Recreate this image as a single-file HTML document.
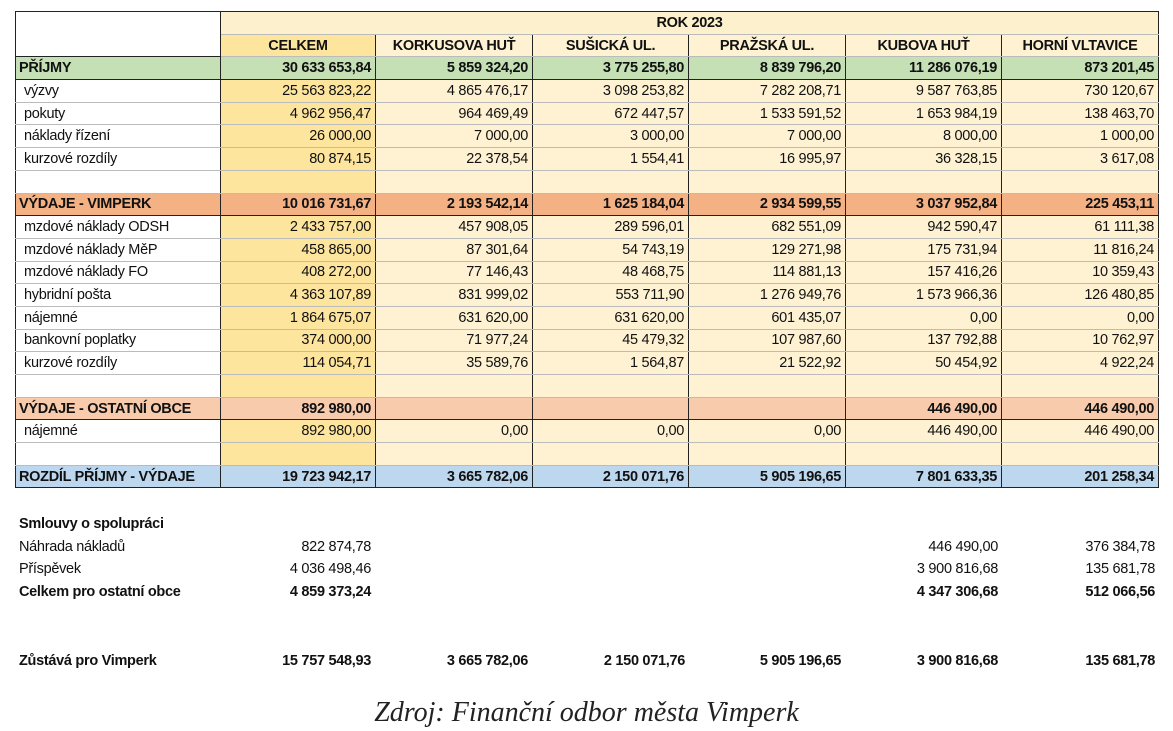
<!DOCTYPE html>
<html><head><meta charset="utf-8"><style>
body{margin:0;width:1173px;height:731px;background:#fff;overflow:hidden;position:relative;font-family:"Liberation Sans",sans-serif;}
table{position:absolute;left:15px;top:11px;border-collapse:collapse;table-layout:fixed;font-size:14.5px;color:#111;letter-spacing:-0.3px}
td{height:21.7px;padding:0 4px;border-left:1.5px solid #222;border-right:1.5px solid #222;border-top:1px solid #bbb;border-bottom:1px solid #bbb;text-align:right;white-space:nowrap;overflow:hidden;background:#fef2d2}
td.l{text-align:left;background:#fff;padding-left:8px}
td.c{background:#fde59e}
tr.s td{font-weight:bold;border-top:1.5px solid #222;border-bottom:1.5px solid #222}
tr.s td.l{padding-left:3px}
tr.g td{background:#c6e0b5}
tr.o td{background:#f4b184}
tr.p td{background:#f8cbad}
tr.b td{background:#bdd7ee}
tr.h td{font-weight:bold;text-align:center;border-top:1.5px solid #222}
.f{position:absolute;font-size:14.5px;color:#111;letter-spacing:-0.3px}
.r{text-align:right}
</style></head><body>
<table>
<colgroup><col style="width:205px"><col style="width:155px"><col style="width:157px"><col style="width:156px"><col style="width:157px"><col style="width:156px"><col style="width:157px"></colgroup>
<tr class="h"><td rowspan="2" style="background:#fff;border:1.5px solid #222"></td><td colspan="6" style="background:#fdf0cc;border-bottom:1px solid #bbb">ROK 2023</td></tr>
<tr class="h"><td class="c">CELKEM</td><td>KORKUSOVA HUŤ</td><td>SUŠICKÁ UL.</td><td>PRAŽSKÁ UL.</td><td>KUBOVA HUŤ</td><td>HORNÍ VLTAVICE</td></tr>
<tr class="s g"><td class="l">PŘÍJMY</td><td>30 633 653,84</td><td>5 859 324,20</td><td>3 775 255,80</td><td>8 839 796,20</td><td>11 286 076,19</td><td>873 201,45</td></tr>
<tr><td class="l">výzvy</td><td class="c">25 563 823,22</td><td>4 865 476,17</td><td>3 098 253,82</td><td>7 282 208,71</td><td>9 587 763,85</td><td>730 120,67</td></tr>
<tr><td class="l">pokuty</td><td class="c">4 962 956,47</td><td>964 469,49</td><td>672 447,57</td><td>1 533 591,52</td><td>1 653 984,19</td><td>138 463,70</td></tr>
<tr><td class="l">náklady řízení</td><td class="c">26 000,00</td><td>7 000,00</td><td>3 000,00</td><td>7 000,00</td><td>8 000,00</td><td>1 000,00</td></tr>
<tr><td class="l">kurzové rozdíly</td><td class="c">80 874,15</td><td>22 378,54</td><td>1 554,41</td><td>16 995,97</td><td>36 328,15</td><td>3 617,08</td></tr>
<tr><td class="l"></td><td class="c"></td><td></td><td></td><td></td><td></td><td></td></tr>
<tr class="s o"><td class="l">VÝDAJE - VIMPERK</td><td>10 016 731,67</td><td>2 193 542,14</td><td>1 625 184,04</td><td>2 934 599,55</td><td>3 037 952,84</td><td>225 453,11</td></tr>
<tr><td class="l">mzdové náklady ODSH</td><td class="c">2 433 757,00</td><td>457 908,05</td><td>289 596,01</td><td>682 551,09</td><td>942 590,47</td><td>61 111,38</td></tr>
<tr><td class="l">mzdové náklady MěP</td><td class="c">458 865,00</td><td>87 301,64</td><td>54 743,19</td><td>129 271,98</td><td>175 731,94</td><td>11 816,24</td></tr>
<tr><td class="l">mzdové náklady FO</td><td class="c">408 272,00</td><td>77 146,43</td><td>48 468,75</td><td>114 881,13</td><td>157 416,26</td><td>10 359,43</td></tr>
<tr><td class="l">hybridní pošta</td><td class="c">4 363 107,89</td><td>831 999,02</td><td>553 711,90</td><td>1 276 949,76</td><td>1 573 966,36</td><td>126 480,85</td></tr>
<tr><td class="l">nájemné</td><td class="c">1 864 675,07</td><td>631 620,00</td><td>631 620,00</td><td>601 435,07</td><td>0,00</td><td>0,00</td></tr>
<tr><td class="l">bankovní poplatky</td><td class="c">374 000,00</td><td>71 977,24</td><td>45 479,32</td><td>107 987,60</td><td>137 792,88</td><td>10 762,97</td></tr>
<tr><td class="l">kurzové rozdíly</td><td class="c">114 054,71</td><td>35 589,76</td><td>1 564,87</td><td>21 522,92</td><td>50 454,92</td><td>4 922,24</td></tr>
<tr><td class="l"></td><td class="c"></td><td></td><td></td><td></td><td></td><td></td></tr>
<tr class="s p"><td class="l">VÝDAJE - OSTATNÍ OBCE</td><td>892 980,00</td><td></td><td></td><td></td><td>446 490,00</td><td>446 490,00</td></tr>
<tr><td class="l">nájemné</td><td class="c">892 980,00</td><td>0,00</td><td>0,00</td><td>0,00</td><td>446 490,00</td><td>446 490,00</td></tr>
<tr><td class="l"></td><td class="c"></td><td></td><td></td><td></td><td></td><td></td></tr>
<tr class="s b"><td class="l">ROZDÍL PŘÍJMY - VÝDAJE</td><td>19 723 942,17</td><td>3 665 782,06</td><td>2 150 071,76</td><td>5 905 196,65</td><td>7 801 633,35</td><td>201 258,34</td></tr>
</table>
<div class="f" style="left:19px;top:516px;font-weight:bold">Smlouvy o spolupráci</div>
<div class="f" style="left:19px;top:539px">Náhrada nákladů</div>
<div class="f" style="left:19px;top:561px">Příspěvek</div>
<div class="f" style="left:19px;top:584px;font-weight:bold">Celkem pro ostatní obce</div>
<div class="f" style="left:19px;top:653px;font-weight:bold">Zůstává pro Vimperk</div>
<div class="f r" style="right:802px;top:539px">822 874,78</div>
<div class="f r" style="right:802px;top:561px">4 036 498,46</div>
<div class="f r" style="right:802px;top:584px;font-weight:bold">4 859 373,24</div>
<div class="f r" style="right:175px;top:539px">446 490,00</div>
<div class="f r" style="right:175px;top:561px">3 900 816,68</div>
<div class="f r" style="right:175px;top:584px;font-weight:bold">4 347 306,68</div>
<div class="f r" style="right:18px;top:539px">376 384,78</div>
<div class="f r" style="right:18px;top:561px">135 681,78</div>
<div class="f r" style="right:18px;top:584px;font-weight:bold">512 066,56</div>
<div class="f r" style="right:802px;top:653px;font-weight:bold">15 757 548,93</div>
<div class="f r" style="right:645px;top:653px;font-weight:bold">3 665 782,06</div>
<div class="f r" style="right:488px;top:653px;font-weight:bold">2 150 071,76</div>
<div class="f r" style="right:332px;top:653px;font-weight:bold">5 905 196,65</div>
<div class="f r" style="right:175px;top:653px;font-weight:bold">3 900 816,68</div>
<div class="f r" style="right:18px;top:653px;font-weight:bold">135 681,78</div>
<div style="position:absolute;left:0;width:1173px;top:697px;text-align:center;font-family:'Liberation Serif',serif;font-style:italic;font-size:28px;color:#222">Zdroj: Finanční odbor města Vimperk</div>
</body></html>
